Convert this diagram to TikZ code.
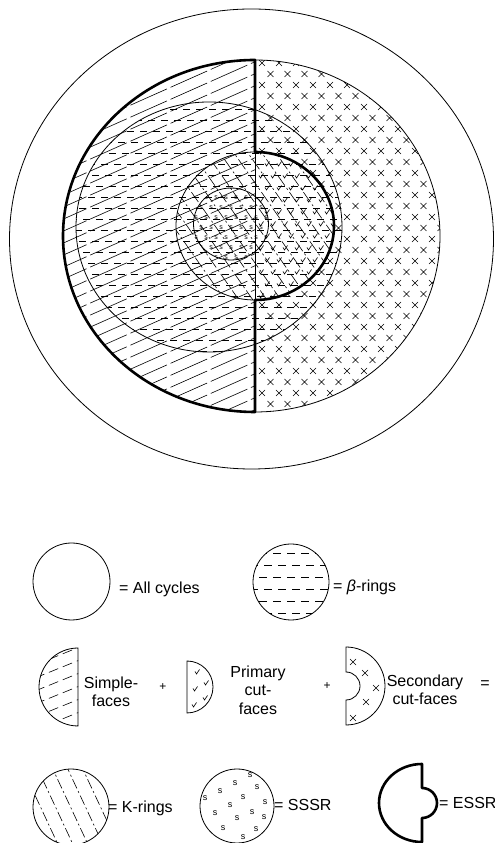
\documentclass[tikz,border=0pt]{standalone}
\usepackage{fontspec}
\setmainfont{Liberation Sans}

\begin{document}
\begin{tikzpicture}[x=1pt, y=1pt,
    thin line/.style={line width=0.8pt},
    thick line/.style={line width=2.6pt, line join=round},
    hatch/.style={line width=0.6pt},
    lbl/.style={font=\fontsize{16}{18.5}\selectfont, inner sep=0pt, align=center},
    smark/.style={font=\fontsize{7}{7}\selectfont, inner sep=0pt},
    crossmark/.pic={\draw[hatch] (-3,-3) -- (3,3) (-3,3) -- (3,-3);},
    checkmark/.pic={\draw[hatch] (-2,0.5) -- (-0.5,-2) -- (2.5,2.5);}]
    \useasboundingbox (0,0) rectangle (495,843);

    % All cycles: the outer ring
    \draw[thin line] (251.5,604) ellipse [x radius=242, y radius=230];

    % Secondary cut-faces: crosses in the right half
    \begin{scope}
        \clip (255,783) arc [start angle=90, end angle=-90, x radius=185, y radius=176] -- cycle;
        \foreach \row in {0,...,32}
            \foreach \col in {0,...,11}
                \pic at ({262+\col*17+mod(\row,2)*8.5}, {428+\row*11}) {crossmark};
    \end{scope}
    \fill[white] (255,617) ellipse [x radius=79, y radius=74];

    % Simple-faces: left half
    \begin{scope}
        \clip (255,783) arc [start angle=90, end angle=270, x radius=192, y radius=176] -- cycle;
        \foreach \k in {0,...,39}
            \draw[hatch, dash pattern=on 40pt off 4pt] (50, 330+\k*12) -- ++(24:240);
    \end{scope}

    % beta-rings
    \begin{scope}
        \clip (209,616) ellipse [x radius=133, y radius=125];
        \foreach \k [evaluate=\k as \ph using {mod(\k,3)*4}] in {0,...,23}
            \draw[hatch, dash pattern=on 7pt off 6pt, dash phase=\ph pt] (70, 492+\k*11) -- (350, 492+\k*11);
    \end{scope}

    % K-rings
    \begin{scope}
        \clip (255,617) ellipse [x radius=79, y radius=74];
        \foreach \k in {-14,...,6}
            \draw[hatch, dash pattern=on 12pt off 3pt on 2pt off 3pt] ({255+\k*14}, 700) -- ++(-55:200);
    \end{scope}

    % Primary cut-faces
    \begin{scope}
        \clip (255,691) arc [start angle=90, end angle=-90, x radius=79, y radius=74] -- cycle;
        \foreach \row in {0,...,12}
            \foreach \col in {0,...,6}
                \pic at ({261+\col*12+mod(\row,2)*6}, {547+\row*12}) {checkmark};
    \end{scope}

    % SSSR
    \begin{scope}
        \clip (231,619) ellipse [x radius=37.5, y radius=36];
        \foreach \row in {0,...,7}
            \foreach \col in {0,...,7}
                \node[smark] (s-\row-\col) at ({196+\col*10+mod(\row,2)*5}, {585+\row*10}) {s};
    \end{scope}

    % outlines
    \draw[thin line] (209,616) ellipse [x radius=133, y radius=125];
    \draw[thin line] (231,619) ellipse [x radius=37.5, y radius=36];
    \draw[thin line] (255,691) arc [start angle=90, end angle=270, x radius=79, y radius=74];
    \draw[thin line] (255,783) arc [start angle=90, end angle=-90, x radius=185, y radius=176];
    \draw[thin line] (255,691) -- (255,543);
    % ESSR
    \draw[thick line] (255,431) arc [start angle=270, end angle=90, x radius=192, y radius=176]
        -- (255,691) arc [start angle=90, end angle=-90, x radius=79, y radius=74] -- cycle;

    % ---- legend, first row
    \draw[thin line] (71.5,261.5) circle [radius=38.5];
    \node[lbl, anchor=west] (allcyc) at (119,254) {= All cycles};

    \begin{scope}
        \clip (291,261) circle [radius=38];
        \foreach \k [evaluate=\k as \ph using {mod(\k,2)*5}] in {0,...,5}
            \draw[hatch, dash pattern=on 8pt off 6pt, dash phase=\ph pt] (250, 230+\k*12) -- (332, 230+\k*12);
    \end{scope}
    \draw[thin line] (291,261) circle [radius=38];
    \node[lbl, anchor=west] (beta) at (333,256) {= {\itshape β}-rings};

    % ---- second row
    \begin{scope}
        \clip (78,195) arc [start angle=90, end angle=270, radius=39] -- cycle;
        \foreach \k in {0,...,7}
            \draw[hatch, dash pattern=on 10pt off 5pt] (35, 100+\k*13) -- ++(22:55);
    \end{scope}
    \draw[thin line] (78,195) arc [start angle=90, end angle=270, radius=39] -- cycle;
    \node[lbl] (simple) at (111,151) {Simple-\\faces};
    \node[lbl, font=\fontsize{12}{12}\selectfont] (plusa) at (163,156) {+};

    \draw[thin line] (187,182) arc [start angle=90, end angle=-90, radius=26] -- cycle;
    \foreach \p in {(197,171),(206,160),(195,154),(205,145),(194,138)}
        \pic at \p {checkmark};
    \node[lbl] (primary) at (258,153) {Primary\\cut-\\faces};
    \node[lbl, font=\fontsize{12}{12}\selectfont] (plusb) at (327,157) {+};

    \draw[thin line] (346,196) arc [start angle=90, end angle=-90, radius=39]
        -- (346,143) arc [start angle=-90, end angle=90, radius=14] -- cycle;
    \foreach \p in {(353,181),(365,170),(376,155),(366,141),(353,125)}
        \pic at \p {crossmark};
    \node[lbl] (secondary) at (425,153) {Secondary\\cut-faces};
    \node[lbl] (eqsign) at (485,158) {=};

    % ---- third row
    \begin{scope}
        \clip (71,36) circle [radius=38];
        \foreach \k in {-2,...,6}
            \draw[hatch, dash pattern=on 10pt off 3pt on 2pt off 3pt] ({20+\k*15}, 80) -- ++(-65:100);
    \end{scope}
    \draw[thin line] (71,36) circle [radius=38];
    \node[lbl, anchor=west] (kring) at (108,35) {= K-rings};

    \foreach \p [count=\i] in {(205,45),(220,52),(235,60),(250,68),(257,56),(243,46),(230,38),
            (215,30),(237,25),(252,31),(265,41),(264,26),(223,15),(243,6),(256,14)}
        \node[smark, font=\fontsize{9}{9}\selectfont] (ss-\i) at \p {s};
    \draw[thin line] (237,37) circle [radius=37];
    \node[lbl, anchor=west] (sssr) at (274,38) {= SSSR};

    \draw[thick line] (422,79) arc [start angle=90, end angle=270, x radius=43, y radius=39]
        -- (422,25) arc [start angle=-90, end angle=90, radius=15] -- cycle;
    \node[lbl, anchor=west] (essr) at (439,40) {= ESSR};
\end{tikzpicture}
\end{document}
